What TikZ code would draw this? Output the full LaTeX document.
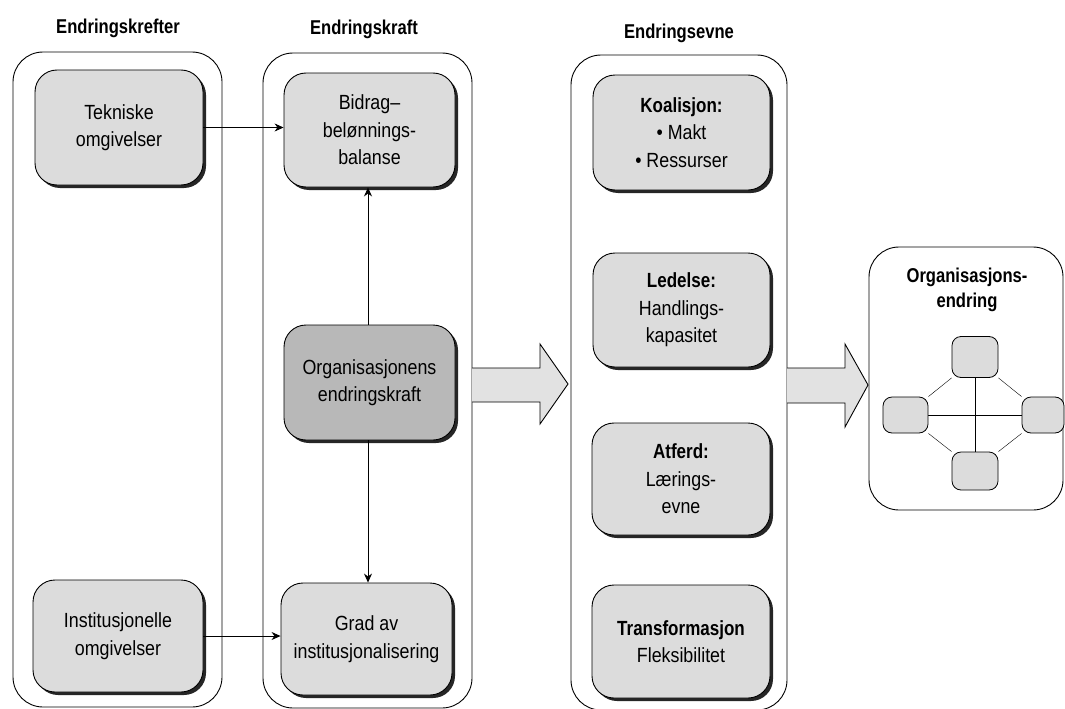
\documentclass[tikz,border=0pt]{standalone}
\usepackage{fontspec}
\setmainfont{Liberation Sans}[FakeStretch=0.87]
\newfontfamily\hdrfont{Liberation Sans}[FakeStretch=0.83]
\usetikzlibrary{shadows,arrows.meta,backgrounds}
\definecolor{boxgray}{HTML}{DCDCDC}
\definecolor{darkgray}{HTML}{B8B8B8}
\definecolor{arrgray}{HTML}{E2E2E2}
\newcommand{\hb}[1]{{\hdrfont\bfseries #1}}
\tikzset{
  col/.style={draw, line width=0.9pt, rounded corners=30pt, inner sep=0pt},
  box/.style={draw, line width=0.9pt, rounded corners=22pt, fill=boxgray, align=center, inner sep=0pt,
    drop shadow={shadow xshift=3pt, shadow yshift=-3pt, fill=black!85, opacity=1},
    font=\fontsize{20.5}{27.5}\selectfont},
  hdr/.style={anchor=base, inner sep=0pt, font=\fontsize{20}{25}\selectfont\hdrfont\bfseries, align=center},
  thin/.style={line width=0.8pt, -{Stealth[length=9pt,width=8pt]}},
  big/.style={line width=0.9pt},
  mini/.style={draw, line width=0.8pt, rounded corners=9pt, fill=boxgray, inner sep=0pt},
}
\begin{document}
\begin{tikzpicture}[x=1pt,y=-1pt]
\useasboundingbox (0,0) rectangle (1065,709);
% columns
\node[col, minimum width=209, minimum height=655] (c1) at (117.5,379.5) {};
\node[col, minimum width=209, minimum height=655] (c2) at (367.5,380.5) {};
\node[col, minimum width=216, minimum height=655] (c3) at (679,382.5) {};
\node[col, minimum width=194, minimum height=263] (c4) at (966,378.5) {};
% headers
\node[hdr] (h1) at (118,34) {Endringskrefter};
\node[hdr] (h2) at (364,35) {Endringskraft};
\node[hdr] (h3) at (679,38) {Endringsevne};
\node[hdr, anchor=north] (h4) at (967,268) {Organisasjons-\\endring};
% boxes column 1
\node[box, minimum width=168, minimum height=115] (tek) at (119,127.5) {Tekniske\\omgivelser};
\node[box, minimum width=170, minimum height=112] (inst) at (118,636) {Institusjonelle\\omgivelser};
% column 2
\node[box, minimum width=171, minimum height=114] (bid) at (369.5,130) {Bidrag--\\belønnings-\\balanse};
\node[box, minimum width=171, minimum height=115, fill=darkgray] (org) at (369.5,382.5) {Organisasjonens\\endringskraft};
\node[box, minimum width=171, minimum height=112] (grad) at (366.5,639) {Grad av\\institusjonalisering};
% column 3
\node[box, minimum width=177, minimum height=115] (koa) at (681.5,132.5) {\hb{Koalisjon:}\\• Makt\\• Ressurser};
\node[box, minimum width=177, minimum height=114] (led) at (681.5,310) {\hb{Ledelse:}\\Handlings-\\kapasitet};
\node[box, minimum width=178, minimum height=112] (atf) at (681,479) {\hb{Atferd:}\\Lærings-\\evne};
\node[box, minimum width=178, minimum height=113] (tra) at (681,641.5) {\hb{Transformasjon}\\Fleksibilitet};
% thin arrows
\draw[thin] (tek.east) -- (tek.east -| bid.west);
\draw[thin] (inst.east) -- (inst.east -| grad.west);
\draw[thin] (org.north -| 368,0) -- (bid.south -| 368,0);
\draw[thin] (org.south -| 368,0) -- (grad.north -| 368,0);
% big arrows
\fill[arrgray] (472,368) -- (540,368) -- (540,344) -- (568,384) -- (540,424) -- (540,402) -- (472,402) -- cycle;
\draw[big] (472,368) -- (540,368) -- (540,344) -- (568,384) -- (540,424) -- (540,402) -- (472,402);
\fill[arrgray] (787,368) -- (845,368) -- (845,344) -- (868,385) -- (845,427) -- (845,403) -- (787,403) -- cycle;
\draw[big] (787,368) -- (845,368) -- (845,344) -- (868,385) -- (845,427) -- (845,403) -- (787,403);
% network
\node[mini, minimum width=46, minimum height=41] (nt) at (975,357) {};
\node[mini, minimum width=45, minimum height=36] (nl) at (905.5,415) {};
\node[mini, minimum width=42, minimum height=36] (nr) at (1043,415) {};
\node[mini, minimum width=46, minimum height=38] (nb) at (975,471) {};
\begin{scope}[on background layer, line width=1pt]
\draw (nt.center) -- (nb.center);
\draw (nl.center) -- (nr.center);
\draw (nt.south west) -- (nl.north east);
\draw (nt.south east) -- (nr.north west);
\draw (nl.south east) -- (nb.north west);
\draw (nr.south west) -- (nb.north east);
\end{scope}
\end{tikzpicture}
\end{document}
